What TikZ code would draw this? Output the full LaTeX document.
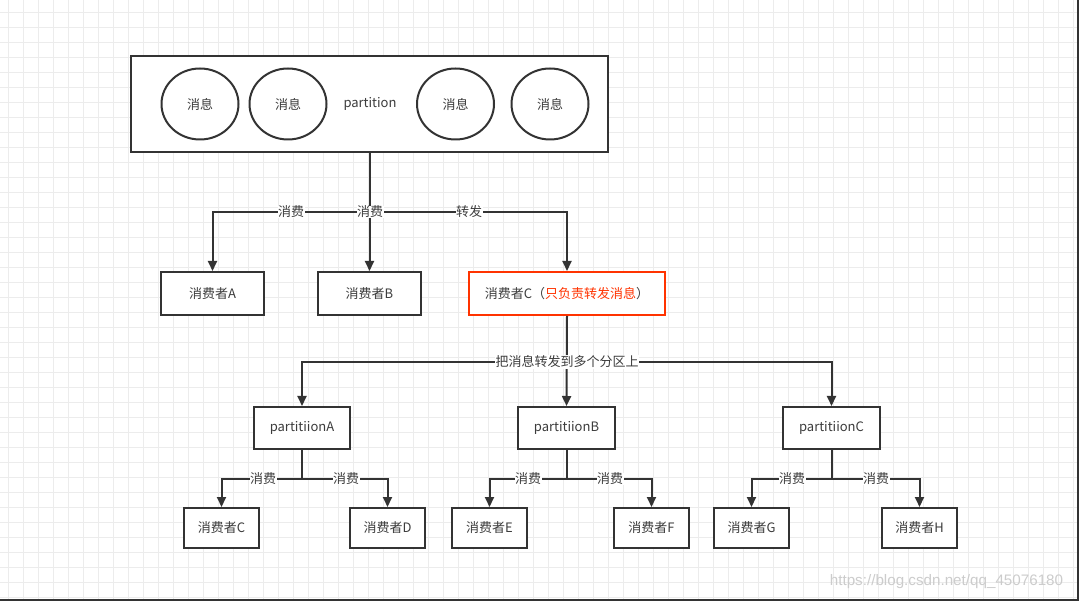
\documentclass[tikz,border=0pt]{standalone}
\usepackage{fontspec}
\setmainfont{Noto Sans CJK SC}
\newfontfamily\wmfont{Liberation Sans}
\usetikzlibrary{arrows.meta,shapes.geometric}
\definecolor{ink}{RGB}{51,51,51}
\definecolor{txt}{RGB}{60,60,60}
\definecolor{redline}{RGB}{255,51,0}
\definecolor{gridc}{RGB}{236,236,236}
\tikzset{
  box/.style={draw=ink, line width=2pt, fill=white, text=txt, inner sep=0pt, font=\fontsize{13}{15}\selectfont},
  msg/.style={ellipse, draw=ink, line width=2pt, fill=white, text=txt, inner sep=0pt, minimum width=77pt, minimum height=71pt, font=\fontsize{13}{15}\selectfont},
  arr/.style={draw=ink, line width=2pt, -{Triangle[length=10pt,width=9pt]}},
  lbl/.style={fill=white, text=txt, inner sep=0.5pt, font=\fontsize{13}{15}\selectfont},
}
\begin{document}
\begin{tikzpicture}[x=1pt,y=-1pt]
\useasboundingbox (0,0) rectangle (1079,601);
\fill[white] (0,0) rectangle (1079,601);
% grid
\foreach \i in {0,...,71} {\draw[gridc, line width=0.9pt] (8.3+15*\i,0) -- (8.3+15*\i,601);}
\foreach \j in {0,...,39} {\draw[gridc, line width=0.9pt] (0,12.5+15*\j) -- (1079,12.5+15*\j);}
% frame edges
\fill[ink] (1077,0) rectangle (1079,601);
\fill[ink] (0,599) rectangle (1079,601);
% bus coordinates
\coordinate (bus1) at (0,212);
\coordinate (bus2) at (0,362);
\coordinate (bus3) at (0,479);
% top partition
\node[box, minimum width=477pt, minimum height=96pt] (top) at (369.5,104) {};
\node[msg] (m1) at (200,104) {消息};
\node[msg] (m2) at (288,104) {消息};
\node[text=txt, font=\fontsize{13}{15}\selectfont] (pt) at (370,104) {partition};
\node[msg] (m3) at (455.5,104) {消息};
\node[msg] (m4) at (550,104) {消息};
% consumers level 1
\node[box, minimum width=103pt, minimum height=43pt] (A) at (212.5,293.5) {消费者A};
\node[box, minimum width=103pt, minimum height=43pt] (B) at (369.5,293.5) {消费者B};
\node[box, draw=redline, minimum width=196pt, minimum height=43pt] (C) at (567,293.5) {消费者C（\textcolor{redline}{只负责转发消息}）};
% partitions
\node[box, minimum width=96pt, minimum height=42pt] (pA) at (302,428) {partitiionA};
\node[box, minimum width=97pt, minimum height=42pt] (pB) at (566.5,428) {partitiionB};
\node[box, minimum width=97pt, minimum height=42pt] (pC) at (831.5,428) {partitiionC};
% consumers level 2
\node[box, minimum width=75pt, minimum height=40pt] (cC) at (221.5,528) {消费者C};
\node[box, minimum width=75pt, minimum height=40pt] (cD) at (387.5,528) {消费者D};
\node[box, minimum width=75pt, minimum height=40pt] (cE) at (489.5,528) {消费者E};
\node[box, minimum width=75pt, minimum height=40pt] (cF) at (651.5,528) {消费者F};
\node[box, minimum width=75pt, minimum height=40pt] (cG) at (751.5,528) {消费者G};
\node[box, minimum width=75pt, minimum height=40pt] (cH) at (919.5,528) {消费者H};
% connectors level 1
\draw[arr] (top.south) |- (A.north |- bus1) -- (A.north);
\draw[arr] (top.south) -- (B.north);
\draw[arr] (top.south) |- (C.north |- bus1) -- (C.north);
% connectors level 2
\draw[arr] (C.south) |- (pA.north |- bus2) -- (pA.north);
\draw[arr] (C.south) -- (pB.north);
\draw[arr] (C.south) |- (pC.north |- bus2) -- (pC.north);
% connectors level 3
\draw[arr] (pA.south) |- (cC.north |- bus3) -- (cC.north);
\draw[arr] (pA.south) |- (cD.north |- bus3) -- (cD.north);
\draw[arr] (pB.south) |- (cE.north |- bus3) -- (cE.north);
\draw[arr] (pB.south) |- (cF.north |- bus3) -- (cF.north);
\draw[arr] (pC.south) |- (cG.north |- bus3) -- (cG.north);
\draw[arr] (pC.south) |- (cH.north |- bus3) -- (cH.north);
% labels
\node[lbl] (l1) at (291,212) {消费};
\node[lbl] (l2) at (370,212) {消费};
\node[lbl] (l3) at (469,212) {转发};
\node[lbl] (l4) at (567,362) {把消息转发到多个分区上};
\node[lbl] (l5) at (263,479) {消费};
\node[lbl] (l6) at (346,479) {消费};
\node[lbl] (l7) at (528,479) {消费};
\node[lbl] (l8) at (610,479) {消费};
\node[lbl] (l9) at (792,479) {消费};
\node[lbl] (l10) at (876,479) {消费};
% watermark
\node[text=gray!40, font=\wmfont\fontsize{15.2}{17}\selectfont, inner sep=0pt] (wm) at (946.5,582) {https://blog.csdn.net/qq\_45076180};
\end{tikzpicture}
\end{document}
